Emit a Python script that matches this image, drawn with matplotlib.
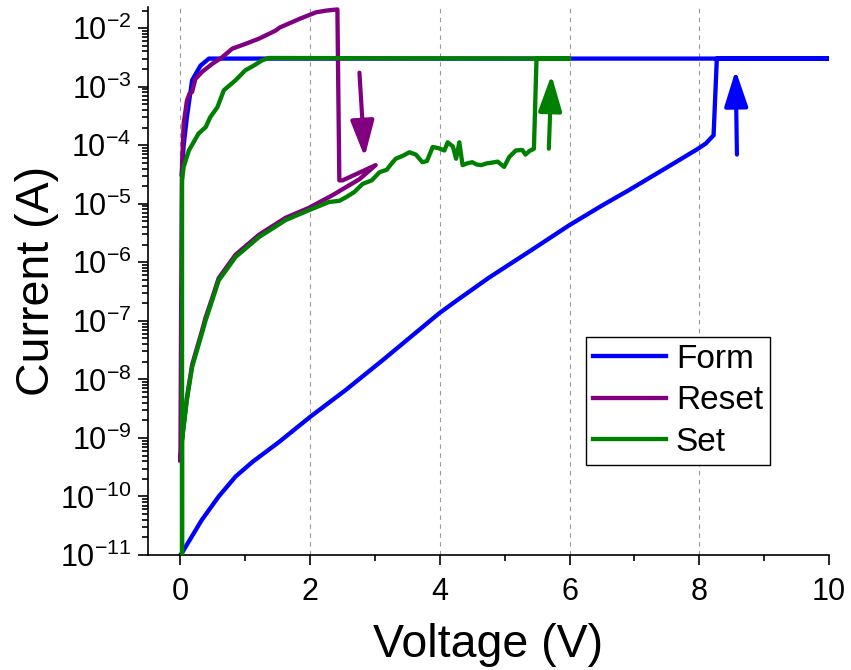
import numpy as np
import matplotlib.pyplot as plt
from matplotlib.ticker import LogLocator, NullFormatter, MultipleLocator

plt.rcParams['font.family'] = ['Liberation Sans', 'DejaVu Sans']
plt.rcParams['mathtext.fontset'] = 'custom'
plt.rcParams['mathtext.rm'] = 'Liberation Sans'
plt.rcParams['mathtext.it'] = 'Liberation Sans:italic'
plt.rcParams['mathtext.bf'] = 'Liberation Sans:bold'

# Form sweep: 0 -> 10 V and back (log10 of current in A)
form_v = [0.0, 0.02, 0.33, 0.59, 0.85, 1.11, 1.52, 2.00, 2.55, 3.12, 3.37, 3.99, 4.25,
          4.76, 5.40, 5.99, 6.50, 6.91, 7.50, 7.98, 8.10, 8.22, 8.27, 10.0,
          0.44, 0.31, 0.18, 0.10, 0.05, 0.02]
form_log_i = [-11.0, -10.97, -10.40, -10.00, -9.66, -9.41, -9.07, -8.64, -8.18, -7.67, -7.44, -6.87, -6.66,
              -6.26, -5.80, -5.37, -5.03, -4.77, -4.38, -4.06, -3.97, -3.83, -2.52, -2.52,
              -2.52, -2.64, -2.89, -3.52, -4.00, -4.50]

# Reset sweep: 0 -> 3 V and back
reset_v = [0.0, 0.01, 0.02, 0.025, 0.05, 0.10, 0.14, 0.18, 0.23, 0.33, 0.49, 0.64, 0.80,
           1.00, 1.21, 1.36, 1.47, 1.53, 1.84, 2.09, 2.25, 2.42, 2.45, 2.50, 3.01,
           2.76, 2.35, 1.98, 1.62, 1.21, 0.85, 0.59, 0.49, 0.386, 0.33, 0.18, 0.10, 0.05, 0.025, 0.0]
reset_log_i = [-9.38, -7.0, -5.0, -4.32, -3.63, -3.24, -3.12, -3.09, -2.87, -2.75, -2.61, -2.50, -2.35,
               -2.27, -2.18, -2.10, -2.04, -1.99, -1.84, -1.73, -1.70, -1.68, -4.60, -4.60, -4.34,
               -4.58, -4.85, -5.07, -5.24, -5.53, -5.87, -6.27, -6.61, -6.95, -7.18, -7.75, -8.31, -8.77, -9.03, -9.38]

# Set sweep: 0 -> 6 V and back
set_v = [0.025, 0.025, 0.05, 0.10, 0.18, 0.33, 0.386, 0.49, 0.59, 0.85, 1.21, 1.62, 1.98, 2.29,
         2.45, 2.55, 2.68, 2.81, 2.95, 3.07, 3.18, 3.25, 3.32, 3.43, 3.53, 3.63, 3.73, 3.80, 3.89,
         3.98, 4.07, 4.12, 4.20, 4.25, 4.30, 4.35, 4.42, 4.50, 4.57, 4.64, 4.72, 4.79, 4.89, 4.99,
         5.07, 5.17, 5.27, 5.32, 5.38, 5.45, 5.49, 6.0,
         1.36, 1.26, 1.13, 1.00, 0.85, 0.67, 0.57, 0.46, 0.39, 0.28, 0.13, 0.05, 0.025, 0.025]
set_log_i = [-11.0, -9.04, -8.81, -8.35, -7.79, -7.22, -7.00, -6.65, -6.31, -5.91, -5.57, -5.28, -5.11, -4.97,
             -4.95, -4.89, -4.80, -4.66, -4.60, -4.46, -4.42, -4.32, -4.23, -4.18, -4.12, -4.16, -4.29, -4.27, -4.03,
             -4.05, -4.09, -3.95, -4.02, -4.23, -3.95, -4.34, -4.31, -4.29, -4.33, -4.34, -4.31, -4.30, -4.28, -4.37,
             -4.20, -4.09, -4.08, -4.16, -4.10, -4.06, -2.52, -2.52,
             -2.51, -2.55, -2.64, -2.72, -2.89, -3.06, -3.35, -3.52, -3.69, -3.80, -4.09, -4.37, -4.60, -11.0]

# arrows: (tail V, tail log I, tip V, tip log I)
arrow_reset = [2.76, -2.76, 2.84, -4.20]
arrow_set = [5.68, -4.06, 5.72, -2.80]
arrow_form = [8.58, -4.16, 8.56, -2.72]

grid_x = [0, 2, 4, 6, 8]

c_form = '#0000FF'
c_reset = '#800080'
c_set = '#008000'

fig = plt.figure(figsize=(8.51, 6.70), dpi=100)
ax = fig.add_axes([0.1739, 0.1716, 0.8003, 0.8180])

for gx in grid_x:
    ax.axvline(gx, color='#999999', lw=0.8, ls=(0, (4, 4)), zorder=0)

ax.plot(form_v, 10.0 ** np.array(form_log_i), color=c_form, lw=3.1, label='Form', zorder=2)
ax.plot(reset_v, 10.0 ** np.array(reset_log_i), color=c_reset, lw=3.1, label='Reset', zorder=3)
ax.plot(set_v, 10.0 ** np.array(set_log_i), color=c_set, lw=3.1, label='Set', zorder=4)

for arr, col in [(arrow_reset, c_reset), (arrow_set, c_set), (arrow_form, c_form)]:
    ax.annotate('', xy=(arr[2], 10 ** arr[3]), xytext=(arr[0], 10 ** arr[1]),
                arrowprops=dict(arrowstyle='-|>,head_length=1.1,head_width=0.36',
                                lw=3, color=col, mutation_scale=20,
                                shrinkA=0, shrinkB=0))

ax.set_yscale('log')
ax.set_xlim(-0.5, 10)
ax.set_ylim(1e-11, 2.3e-2)
ax.xaxis.set_major_locator(MultipleLocator(2))
ax.xaxis.set_minor_locator(MultipleLocator(1))
ax.yaxis.set_major_locator(LogLocator(base=10, numticks=20))
ax.yaxis.set_minor_locator(LogLocator(base=10, subs=np.arange(2, 10), numticks=20))
ax.yaxis.set_minor_formatter(NullFormatter())

for s in ['top', 'right']:
    ax.spines[s].set_visible(False)
for s in ['left', 'bottom']:
    ax.spines[s].set_linewidth(1.2)

ax.tick_params(axis='both', which='major', direction='out', length=7, width=1.2, labelsize=22)
ax.tick_params(axis='both', which='minor', direction='out', length=4, width=1.2)
ax.tick_params(axis='x', which='major', pad=8.5)
ax.tick_params(axis='y', which='major', pad=5)

ax.set_xlabel('Voltage (V)', fontsize=33.5, labelpad=12)
ax.set_ylabel('Current (A)', fontsize=33.5)
ax.yaxis.set_label_coords(-0.131, 0.5)

leg = ax.legend(loc='upper left', bbox_to_anchor=(0.643, 0.398), borderaxespad=0,
                fontsize=24, handlelength=2.2, handletextpad=0.3, labelspacing=0.32,
                borderpad=0.2, fancybox=False, framealpha=1, edgecolor='black')
leg.get_frame().set_linewidth(1.0)

fig.savefig('out.png', dpi=100)
